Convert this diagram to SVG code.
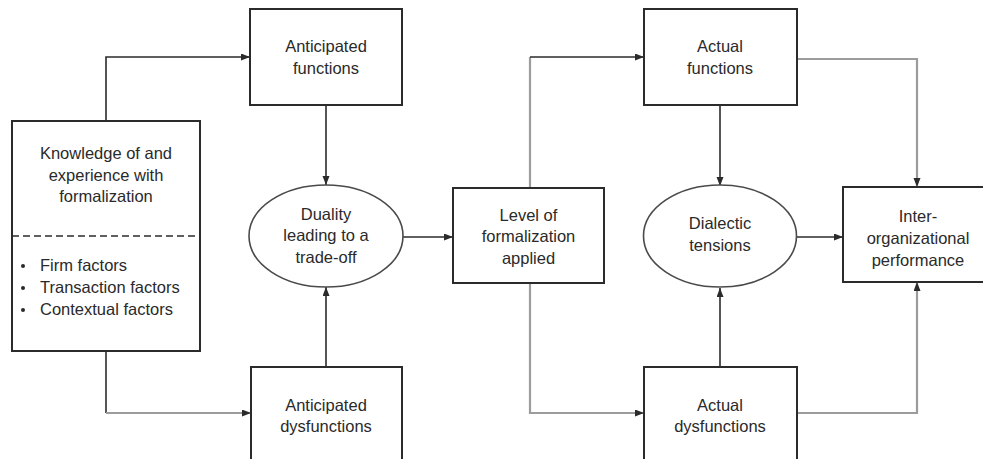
<svg xmlns="http://www.w3.org/2000/svg" width="983" height="459" viewBox="0 0 983 459">
<style>
  .box { fill: #fff; stroke: #2b2b2b; stroke-width: 2; }
  .ell { fill: #fff; stroke: #4a4a4a; stroke-width: 1.6; }
  .t { font-family: "Liberation Sans", Arial, sans-serif; font-size: 16.5px; fill: #2a2a2a; text-anchor: middle; }
  .tl { text-anchor: start; }
  .dark { fill: none; stroke: #2b2b2b; stroke-width: 1.6; }
  .gray { fill: none; stroke: #9c9c9c; stroke-width: 2.2; }
</style>
<defs>
  <marker id="ah" markerUnits="userSpaceOnUse" markerWidth="10" markerHeight="8" refX="9" refY="3.5" orient="auto">
    <path d="M0,0 L9,3.5 L0,7 z" fill="#2b2b2b"/>
  </marker>
</defs>

<g id="connectors">
  <path class="dark" d="M106,121 V57 H250" marker-end="url(#ah)"/>
  <path class="dark" d="M106,351 V413"/>
  <path class="gray" d="M106,413 H251" marker-end="url(#ah)"/>
  <path class="dark" d="M326,105 V185" marker-end="url(#ah)"/>
  <path class="dark" d="M326,367 V287" marker-end="url(#ah)"/>
  <path class="dark" d="M403,237 H453" marker-end="url(#ah)"/>
  <path class="gray" d="M530,188 V57"/>
  <path class="dark" d="M530,57 H644" marker-end="url(#ah)"/>
  <path class="gray" d="M530,283 V413 H644" marker-end="url(#ah)"/>
  <path class="dark" d="M720,105 V186" marker-end="url(#ah)"/>
  <path class="dark" d="M720,367 V288" marker-end="url(#ah)"/>
  <path class="dark" d="M797,237 H843" marker-end="url(#ah)"/>
  <path class="gray" d="M797,59 H917 V187" marker-end="url(#ah)"/>
  <path class="gray" d="M797,413 H917 V282" marker-end="url(#ah)"/>
</g>

<g id="knowledge">
  <rect class="box" x="12" y="121" width="188" height="230"/>
  <line x1="12" y1="236" x2="200" y2="236" stroke="#2b2b2b" stroke-width="1.6" stroke-dasharray="7 4"/>
  <text class="t" x="106" y="159">Knowledge of and</text>
  <text class="t" x="106" y="180.5">experience with</text>
  <text class="t" x="106" y="202">formalization</text>
  <circle cx="23" cy="266" r="2" fill="#2a2a2a"/>
  <circle cx="23" cy="288" r="2" fill="#2a2a2a"/>
  <circle cx="23" cy="310" r="2" fill="#2a2a2a"/>
  <text class="t tl" x="40" y="271">Firm factors</text>
  <text class="t tl" x="40" y="293">Transaction factors</text>
  <text class="t tl" x="40" y="315">Contextual factors</text>
</g>

<g id="anticipated-functions">
  <rect class="box" x="250" y="9" width="152" height="96"/>
  <text class="t" x="326" y="51.5">Anticipated</text>
  <text class="t" x="326" y="74">functions</text>
</g>

<g id="anticipated-dysfunctions">
  <rect class="box" x="251" y="367" width="151" height="110"/>
  <text class="t" x="326" y="410.5">Anticipated</text>
  <text class="t" x="326" y="432">dysfunctions</text>
</g>

<g id="duality">
  <ellipse class="ell" cx="326" cy="236" rx="77" ry="51"/>
  <text class="t" x="326" y="219.5">Duality</text>
  <text class="t" x="326" y="241">leading to a</text>
  <text class="t" x="326" y="262.5">trade-off</text>
</g>

<g id="level">
  <rect class="box" x="453" y="188" width="151" height="95"/>
  <text class="t" x="528.5" y="220.5">Level of</text>
  <text class="t" x="528.5" y="242">formalization</text>
  <text class="t" x="528.5" y="263.5">applied</text>
</g>

<g id="actual-functions">
  <rect class="box" x="644" y="9" width="153" height="96"/>
  <text class="t" x="720" y="51.5">Actual</text>
  <text class="t" x="720" y="74">functions</text>
</g>

<g id="actual-dysfunctions">
  <rect class="box" x="644" y="367" width="153" height="110"/>
  <text class="t" x="720" y="410.5">Actual</text>
  <text class="t" x="720" y="432">dysfunctions</text>
</g>

<g id="dialectic">
  <ellipse class="ell" cx="720" cy="236" rx="76.5" ry="51"/>
  <text class="t" x="720" y="229">Dialectic</text>
  <text class="t" x="720" y="251">tensions</text>
</g>

<g id="performance">
  <rect class="box" x="843" y="187" width="150" height="95"/>
  <text class="t" x="918" y="221.5">Inter-</text>
  <text class="t" x="918" y="243.5">organizational</text>
  <text class="t" x="918" y="265.5">performance</text>
</g>
</svg>
